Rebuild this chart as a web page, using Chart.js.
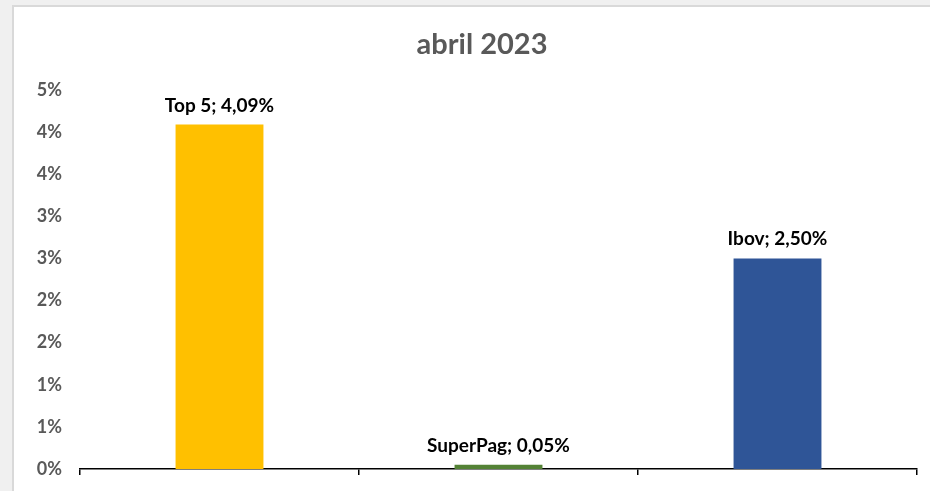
<!DOCTYPE html>
<html>
<head>
<meta charset="utf-8">
<script src="https://cdn.jsdelivr.net/npm/chart.js@4/dist/chart.umd.min.js"></script>
<style>
  html, body { margin: 0; padding: 0; width: 930px; height: 491px; overflow: hidden; background: #f0f0f0; }
  #box { position: absolute; left: 12px; top: 5px; width: 938px; height: 500px; background: #ffffff;
         border-left: 2px solid #d9d9d9; border-top: 2px solid #d9d9d9; }
  #wrap { position: absolute; left: 0; top: 0; width: 936px; height: 486px; }
</style>
</head>
<body>
<div id="box"><div id="wrap"><canvas id="c"></canvas></div></div>
<script>
const categories = ["Top 5", "SuperPag", "Ibov"];
const values = [4.09, 0.05, 2.50];
const barColors = ["#FFC000", "#548235", "#2F5597"];
const yTickLabels = ["0%", "1%", "1%", "2%", "2%", "3%", "3%", "4%", "4%", "5%"];
const chartTitle = "abril 2023";

const fmt = v => v.toFixed(2).replace(".", ",") + "%";

const labelPlugin = {
  id: "barLabels",
  afterDatasetsDraw(chart) {
    const ctx = chart.ctx;
    const meta = chart.getDatasetMeta(0);
    ctx.save();
    ctx.font = "bold 19px Lato, 'Open Sans', sans-serif";
    ctx.fillStyle = "#000000";
    ctx.textAlign = "center";
    ctx.textBaseline = "alphabetic";
    meta.data.forEach((bar, i) => {
      ctx.fillText(categories[i] + "; " + fmt(values[i]), bar.x, bar.y - 13);
    });
    ctx.restore();
  }
};

const titlePlugin = {
  id: "centeredTitle",
  afterDraw(chart) {
    const ctx = chart.ctx;
    ctx.save();
    ctx.font = "bold 29px Lato, 'Open Sans', sans-serif";
    ctx.fillStyle = "#595959";
    ctx.textAlign = "center";
    ctx.textBaseline = "middle";
    ctx.fillText(chartTitle, chart.width / 2, 38);
    ctx.restore();
  }
};

new Chart(document.getElementById("c"), {
  type: "bar",
  data: {
    labels: categories,
    datasets: [{
      data: values,
      backgroundColor: barColors,
      borderWidth: 0,
      categoryPercentage: 1,
      barPercentage: 0.315
    }]
  },
  options: {
    responsive: true,
    maintainAspectRatio: false,
    animation: false,
    layout: { padding: { left: 0, right: 33, top: 83, bottom: 18 } },
    plugins: {
      legend: { display: false },
      tooltip: { enabled: false },
      title: { display: false }
    },
    scales: {
      x: {
        grid: { display: true, drawOnChartArea: false, drawTicks: true, tickLength: 6, color: "#000000", lineWidth: 1.5, offset: true },
        border: { display: true, color: "#000000", width: 1.5 },
        ticks: { display: false }
      },
      y: {
        min: 0,
        max: 4.5,
        afterFit(scale) { scale.width = 66; scale.paddingTop = 0; scale.paddingBottom = 0; },
        grid: { display: false, drawTicks: false },
        border: { display: false },
        ticks: {
          stepSize: 0.5,
          padding: 18,
          color: "#595959",
          font: { family: "Lato, 'Open Sans', sans-serif", size: 18, weight: "bold" },
          callback: (v, i) => yTickLabels[i]
        }
      }
    }
  },
  plugins: [labelPlugin, titlePlugin]
});
</script>
</body>
</html>
